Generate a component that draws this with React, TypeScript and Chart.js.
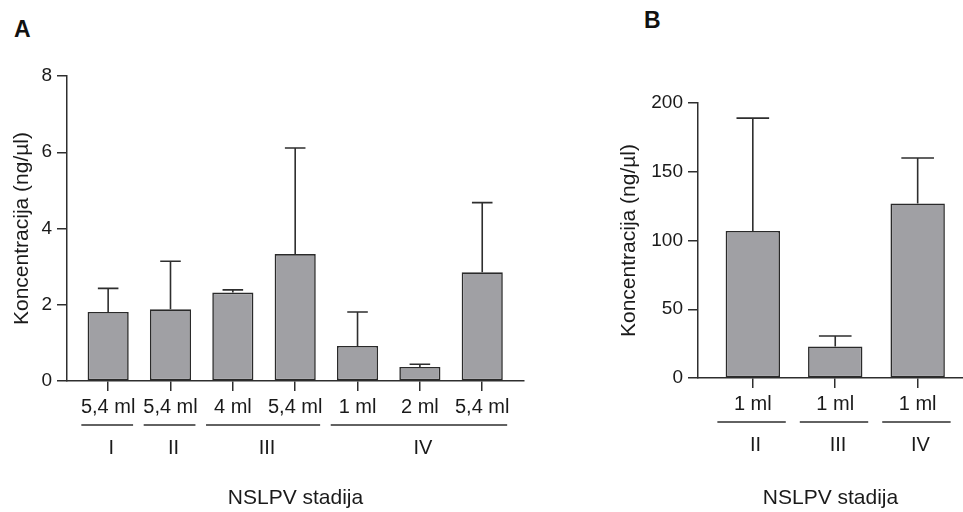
import React, { useEffect, useRef } from 'react';
import { Chart, registerables } from 'chart.js';

Chart.register(...registerables);

// ---------- Panel A data ----------
const volumesA = ['5,4 ml', '5,4 ml', '4 ml', '5,4 ml', '1 ml', '2 ml', '5,4 ml'];
const meansA = [1.81, 1.88, 2.32, 3.33, 0.92, 0.37, 2.85];
const sdA = [0.62, 1.26, 0.07, 2.78, 0.89, 0.07, 1.83];
const stagesA = ['I', 'II', 'III', 'IV'];
const stageFromA = [0, 1, 2, 4];
const stageToA = [0, 1, 3, 6];
const yTicksA = { min: 0, max: 8, step: 2 };

// ---------- Panel B data ----------
const volumesB = ['1 ml', '1 ml', '1 ml'];
const meansB = [107, 23, 127];
const sdB = [82, 7.5, 33];
const stagesB = ['II', 'III', 'IV'];
const stageFromB = [0, 1, 2];
const stageToB = [0, 1, 2];
const yTicksB = { min: 0, max: 200, step: 50 };

const yTitle = 'Koncentracija (ng/µl)';
const xTitle = 'NSLPV stadija';

const FONT = "'Liberation Sans', Arial, Helvetica, sans-serif";
const INK = '#1a1a1a';
const LINE = '#2e2e2e';
const BAR = '#a0a0a4';

type PanelCfg = {
  labels: string[];
  means: number[];
  sds: number[];
  stages: string[];
  from: number[];
  to: number[];
  yt: { min: number; max: number; step: number };
  xMin: number;
  xMax: number;
  capRatio: number;
  yAxisWidth: number;
  xAxisHeight: number;
  padTop: number;
  padRight: number;
  yTitlePad: number;
};

function build(canvas: HTMLCanvasElement, p: PanelCfg) {
  const errorBars = {
    id: 'errorBars',
    afterDatasetsDraw(chart: any) {
      const ctx = chart.ctx;
      const meta = chart.getDatasetMeta(0);
      const y = chart.scales.y;
      ctx.save();
      ctx.strokeStyle = LINE;
      ctx.lineWidth = 1.6;
      meta.data.forEach((bar: any, i: number) => {
        const top = y.getPixelForValue(p.means[i] + p.sds[i]);
        const half = (bar.width * p.capRatio) / 2;
        ctx.beginPath();
        ctx.moveTo(bar.x, bar.y);
        ctx.lineTo(bar.x, top);
        ctx.moveTo(bar.x - half, top);
        ctx.lineTo(bar.x + half, top);
        ctx.stroke();
      });
      ctx.restore();
    },
  };

  const groups = {
    id: 'groups',
    afterDraw(chart: any) {
      const ctx = chart.ctx;
      const x = chart.scales.x;
      const base = chart.chartArea.bottom;
      ctx.save();
      ctx.strokeStyle = LINE;
      ctx.lineWidth = 1.3;
      ctx.fillStyle = INK;
      ctx.font = `20px ${FONT}`;
      ctx.textAlign = 'center';
      ctx.textBaseline = 'middle';
      p.stages.forEach((s, i) => {
        const x0 = x.getPixelForValue(p.from[i] - 0.43);
        const x1 = x.getPixelForValue(p.to[i] + 0.4);
        ctx.beginPath();
        ctx.moveTo(x0, base + 44);
        ctx.lineTo(x1, base + 44);
        ctx.stroke();
        ctx.fillText(s, (x0 + x1) / 2 + 4, base + 67);
      });
      ctx.restore();
    },
  };

  return new Chart(canvas, {
    type: 'bar',
    data: {
      datasets: [
        {
          data: p.means.map((v, i) => ({ x: i, y: v })),
          backgroundColor: BAR,
          borderColor: '#2a2a2a',
          borderWidth: 1.6,
          borderSkipped: false,
          categoryPercentage: 1,
          barPercentage: 0.66,
        },
      ],
    },
    options: {
      animation: false,
      responsive: false,
      devicePixelRatio: 1,
      layout: { padding: { left: 0, right: p.padRight, top: p.padTop, bottom: 0 } },
      plugins: { legend: { display: false }, tooltip: { enabled: false }, title: { display: false } },
      scales: {
        x: {
          type: 'linear',
          min: p.xMin,
          max: p.xMax,
          offset: false,
          afterBuildTicks: (scale: any) => {
            scale.ticks = p.labels.map((_, i) => ({ value: i }));
          },
          afterFit: (scale: any) => {
            scale.height = p.xAxisHeight;
          },
          ticks: {
            autoSkip: false,
            maxRotation: 0,
            minRotation: 0,
            padding: 4,
            color: INK,
            font: { family: FONT, size: 20 },
            callback: (v: any) => p.labels[Math.round(Number(v))] ?? '',
          },
          grid: {
            display: true,
            offset: false,
            drawOnChartArea: false,
            drawTicks: true,
            tickLength: 10,
            color: LINE,
            lineWidth: 1.5,
          },
          border: { display: true, color: LINE, width: 1.5 },
          title: {
            display: true,
            text: xTitle,
            color: INK,
            font: { family: FONT, size: 21 },
            padding: { top: 0, bottom: 1 },
          },
        },
        y: {
          type: 'linear',
          min: p.yt.min,
          max: p.yt.max,
          afterFit: (scale: any) => {
            scale.width = p.yAxisWidth;
          },
          ticks: {
            stepSize: p.yt.step,
            padding: 5,
            color: INK,
            font: { family: FONT, size: 19 },
          },
          grid: {
            display: true,
            drawOnChartArea: false,
            drawTicks: true,
            tickLength: 10,
            color: LINE,
            lineWidth: 1.5,
          },
          border: { display: true, color: LINE, width: 1.5 },
          title: {
            display: true,
            text: yTitle,
            color: INK,
            font: { family: FONT, size: 21 },
            padding: { top: p.yTitlePad, bottom: 0 },
          },
        },
      },
    },
    plugins: [errorBars, groups],
  } as any);
}

const CfgA: PanelCfg = {
  labels: volumesA,
  means: meansA,
  sds: sdA,
  stages: stagesA,
  from: stageFromA,
  to: stageToA,
  yt: yTicksA,
  xMin: -0.66,
  xMax: 6.67,
  capRatio: 0.5,
  yAxisWidth: 67,
  xAxisHeight: 131,
  padTop: 76,
  padRight: 21,
  yTitlePad: 10,
};

const CfgB: PanelCfg = {
  labels: volumesB,
  means: meansB,
  sds: sdB,
  stages: stagesB,
  from: stageFromB,
  to: stageToB,
  yt: yTicksB,
  xMin: -0.665,
  xMax: 2.55,
  capRatio: 0.6,
  yAxisWidth: 98,
  xAxisHeight: 134,
  padTop: 103,
  padRight: 0,
  yTitlePad: 17,
};

export default function App() {
  const refA = useRef<HTMLCanvasElement>(null);
  const refB = useRef<HTMLCanvasElement>(null);

  useEffect(() => {
    const a = build(refA.current!, CfgA);
    const b = build(refB.current!, CfgB);
    return () => {
      a.destroy();
      b.destroy();
    };
  }, []);

  const letter: React.CSSProperties = {
    position: 'absolute',
    fontFamily: FONT,
    fontWeight: 'bold',
    fontSize: 23,
    lineHeight: '23px',
    color: '#111',
  };

  return (
    <div
      style={{
        position: 'fixed',
        left: 0,
        top: 0,
        width: 963,
        height: 512,
        background: '#fff',
        overflow: 'hidden',
      }}
    >
      <div style={{ ...letter, left: 14, top: 18 }}>A</div>
      <div style={{ ...letter, left: 644, top: 9 }}>B</div>
      <canvas
        ref={refA}
        width={545}
        height={512}
        style={{ position: 'absolute', left: 0, top: 0, width: 545, height: 512 }}
      />
      <canvas
        ref={refB}
        width={363}
        height={512}
        style={{ position: 'absolute', left: 600, top: 0, width: 363, height: 512 }}
      />
    </div>
  );
}
